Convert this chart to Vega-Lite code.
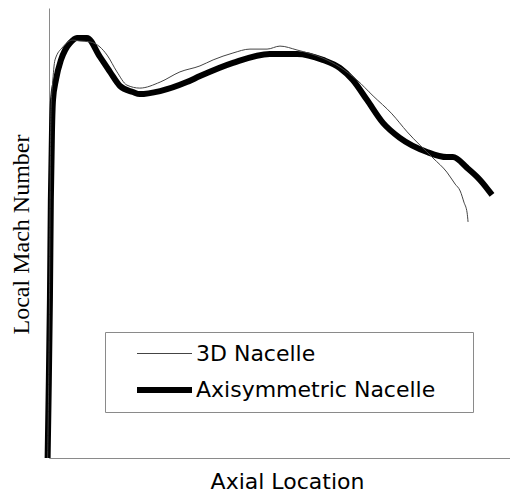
{
  "$schema": "https://vega.github.io/schema/vega-lite/v6.json",
  "autosize": {"type": "none"},
  "padding": {"left": 49, "top": 8, "right": 0, "bottom": 35},
  "width": 461,
  "height": 450,
  "background": "white",
  "datasets": {
    "axisymmetric": [
      {"series": "Axisymmetric Nacelle", "x": -0.003, "mach": 0.0},
      {"series": "Axisymmetric Nacelle", "x": -0.001, "mach": 0.193},
      {"series": "Axisymmetric Nacelle", "x": 0.002, "mach": 0.527},
      {"series": "Axisymmetric Nacelle", "x": 0.004, "mach": 0.86},
      {"series": "Axisymmetric Nacelle", "x": 0.0065, "mach": 1.093},
      {"series": "Axisymmetric Nacelle", "x": 0.0087, "mach": 1.193},
      {"series": "Axisymmetric Nacelle", "x": 0.015, "mach": 1.26},
      {"series": "Axisymmetric Nacelle", "x": 0.026, "mach": 1.327},
      {"series": "Axisymmetric Nacelle", "x": 0.035, "mach": 1.36},
      {"series": "Axisymmetric Nacelle", "x": 0.0456, "mach": 1.383},
      {"series": "Axisymmetric Nacelle", "x": 0.0607, "mach": 1.4},
      {"series": "Axisymmetric Nacelle", "x": 0.0824, "mach": 1.4},
      {"series": "Axisymmetric Nacelle", "x": 0.1106, "mach": 1.337},
      {"series": "Axisymmetric Nacelle", "x": 0.1323, "mach": 1.287},
      {"series": "Axisymmetric Nacelle", "x": 0.154, "mach": 1.24},
      {"series": "Axisymmetric Nacelle", "x": 0.182, "mach": 1.22},
      {"series": "Axisymmetric Nacelle", "x": 0.197, "mach": 1.213},
      {"series": "Axisymmetric Nacelle", "x": 0.241, "mach": 1.223},
      {"series": "Axisymmetric Nacelle", "x": 0.299, "mach": 1.253},
      {"series": "Axisymmetric Nacelle", "x": 0.3275, "mach": 1.273},
      {"series": "Axisymmetric Nacelle", "x": 0.399, "mach": 1.317},
      {"series": "Axisymmetric Nacelle", "x": 0.479, "mach": 1.347},
      {"series": "Axisymmetric Nacelle", "x": 0.538, "mach": 1.347},
      {"series": "Axisymmetric Nacelle", "x": 0.594, "mach": 1.327},
      {"series": "Axisymmetric Nacelle", "x": 0.631, "mach": 1.3},
      {"series": "Axisymmetric Nacelle", "x": 0.659, "mach": 1.26},
      {"series": "Axisymmetric Nacelle", "x": 0.69, "mach": 1.193},
      {"series": "Axisymmetric Nacelle", "x": 0.7245, "mach": 1.117},
      {"series": "Axisymmetric Nacelle", "x": 0.761, "mach": 1.067},
      {"series": "Axisymmetric Nacelle", "x": 0.82, "mach": 1.02},
      {"series": "Axisymmetric Nacelle", "x": 0.863, "mach": 1.003},
      {"series": "Axisymmetric Nacelle", "x": 0.876, "mach": 1.003},
      {"series": "Axisymmetric Nacelle", "x": 0.907, "mach": 0.967},
      {"series": "Axisymmetric Nacelle", "x": 0.935, "mach": 0.927},
      {"series": "Axisymmetric Nacelle", "x": 0.961, "mach": 0.877}
    ],
    "nacelle3d": [
      {"series": "3D Nacelle", "x": -0.003, "mach": 0.0},
      {"series": "3D Nacelle", "x": 0.001, "mach": 0.527},
      {"series": "3D Nacelle", "x": 0.003, "mach": 0.993},
      {"series": "3D Nacelle", "x": 0.0045, "mach": 1.17},
      {"series": "3D Nacelle", "x": 0.0075, "mach": 1.243},
      {"series": "3D Nacelle", "x": 0.013, "mach": 1.327},
      {"series": "3D Nacelle", "x": 0.03, "mach": 1.37},
      {"series": "3D Nacelle", "x": 0.052, "mach": 1.393},
      {"series": "3D Nacelle", "x": 0.067, "mach": 1.39},
      {"series": "3D Nacelle", "x": 0.089, "mach": 1.387},
      {"series": "3D Nacelle", "x": 0.1106, "mach": 1.37},
      {"series": "3D Nacelle", "x": 0.126, "mach": 1.343},
      {"series": "3D Nacelle", "x": 0.1475, "mach": 1.287},
      {"series": "3D Nacelle", "x": 0.169, "mach": 1.243},
      {"series": "3D Nacelle", "x": 0.197, "mach": 1.233},
      {"series": "3D Nacelle", "x": 0.241, "mach": 1.253},
      {"series": "3D Nacelle", "x": 0.284, "mach": 1.287},
      {"series": "3D Nacelle", "x": 0.3275, "mach": 1.307},
      {"series": "3D Nacelle", "x": 0.356, "mach": 1.327},
      {"series": "3D Nacelle", "x": 0.399, "mach": 1.35},
      {"series": "3D Nacelle", "x": 0.436, "mach": 1.363},
      {"series": "3D Nacelle", "x": 0.473, "mach": 1.363},
      {"series": "3D Nacelle", "x": 0.501, "mach": 1.373},
      {"series": "3D Nacelle", "x": 0.538, "mach": 1.36},
      {"series": "3D Nacelle", "x": 0.594, "mach": 1.333},
      {"series": "3D Nacelle", "x": 0.631, "mach": 1.303},
      {"series": "3D Nacelle", "x": 0.668, "mach": 1.26},
      {"series": "3D Nacelle", "x": 0.703, "mach": 1.207},
      {"series": "3D Nacelle", "x": 0.744, "mach": 1.147},
      {"series": "3D Nacelle", "x": 0.777, "mach": 1.087},
      {"series": "3D Nacelle", "x": 0.833, "mach": 1.0},
      {"series": "3D Nacelle", "x": 0.863, "mach": 0.953},
      {"series": "3D Nacelle", "x": 0.881, "mach": 0.913},
      {"series": "3D Nacelle", "x": 0.892, "mach": 0.89},
      {"series": "3D Nacelle", "x": 0.9, "mach": 0.853},
      {"series": "3D Nacelle", "x": 0.907, "mach": 0.817},
      {"series": "3D Nacelle", "x": 0.909, "mach": 0.787}
    ]
  },
  "encoding": {
    "x": {
      "field": "x",
      "type": "quantitative",
      "scale": {"domain": [0, 1], "nice": false, "zero": false},
      "axis": {
        "title": "Axial Location",
        "titleFont": "DejaVu Sans",
        "titleFontSize": 22,
        "titleFontWeight": "normal",
        "titleColor": "#000",
        "titleX": 238,
        "titleY": 30,
        "titleAlign": "center",
        "titleBaseline": "alphabetic"
      }
    },
    "y": {
      "field": "mach",
      "type": "quantitative",
      "scale": {"domain": [0, 1.5], "nice": false, "zero": false},
      "axis": {
        "title": "Local Mach Number",
        "titleFont": "Liberation Serif",
        "titleFontSize": 24,
        "titleFontWeight": "normal",
        "titleColor": "#000",
        "titleAngle": 270,
        "titleX": -21,
        "titleY": 226,
        "titleAlign": "center",
        "titleBaseline": "alphabetic"
      }
    },
    "color": {
      "field": "series",
      "type": "nominal",
      "scale": {"domain": ["3D Nacelle", "Axisymmetric Nacelle"], "range": ["#444444", "#000000"]},
      "legend": {
        "title": null,
        "orient": "none",
        "legendX": 56,
        "legendY": 324,
        "symbolType": "M-2.5,0H2.5",
        "symbolSize": 484,
        "symbolOffset": 35.5,
        "labelOffset": 17.5,
        "labelFont": "DejaVu Sans",
        "labelFontSize": 22,
        "labelColor": "#000",
        "labelLimit": 600,
        "labelExpr": "datum.label + '\u2002\u2800'",
        "rowPadding": 11,
        "padding": 10,
        "strokeColor": "#8a8a8a"
      }
    },
    "strokeWidth": {
      "field": "series",
      "type": "nominal",
      "scale": {"domain": ["3D Nacelle", "Axisymmetric Nacelle"], "range": [1, 6]},
      "legend": {
        "title": null,
        "orient": "none",
        "legendX": 56,
        "legendY": 324,
        "symbolType": "M-2.5,0H2.5",
        "symbolSize": 484,
        "symbolOffset": 35.5,
        "labelOffset": 17.5,
        "labelFont": "DejaVu Sans",
        "labelFontSize": 22,
        "labelColor": "#000",
        "labelLimit": 600,
        "labelExpr": "datum.label + '\u2002\u2800'",
        "rowPadding": 11,
        "padding": 10,
        "strokeColor": "#8a8a8a"
      }
    }
  },
  "layer": [
    {
      "data": {"name": "axisymmetric"},
      "mark": {"type": "line", "interpolate": "monotone", "strokeJoin": "round", "strokeCap": "butt"}
    },
    {
      "data": {"name": "nacelle3d"},
      "mark": {"type": "line", "interpolate": "monotone", "strokeJoin": "round"}
    }
  ],
  "config": {
    "view": {"stroke": null},
    "axis": {
      "domainColor": "#8a8a8a",
      "domainWidth": 1,
      "ticks": false,
      "labels": false,
      "grid": false
    }
  }
}
